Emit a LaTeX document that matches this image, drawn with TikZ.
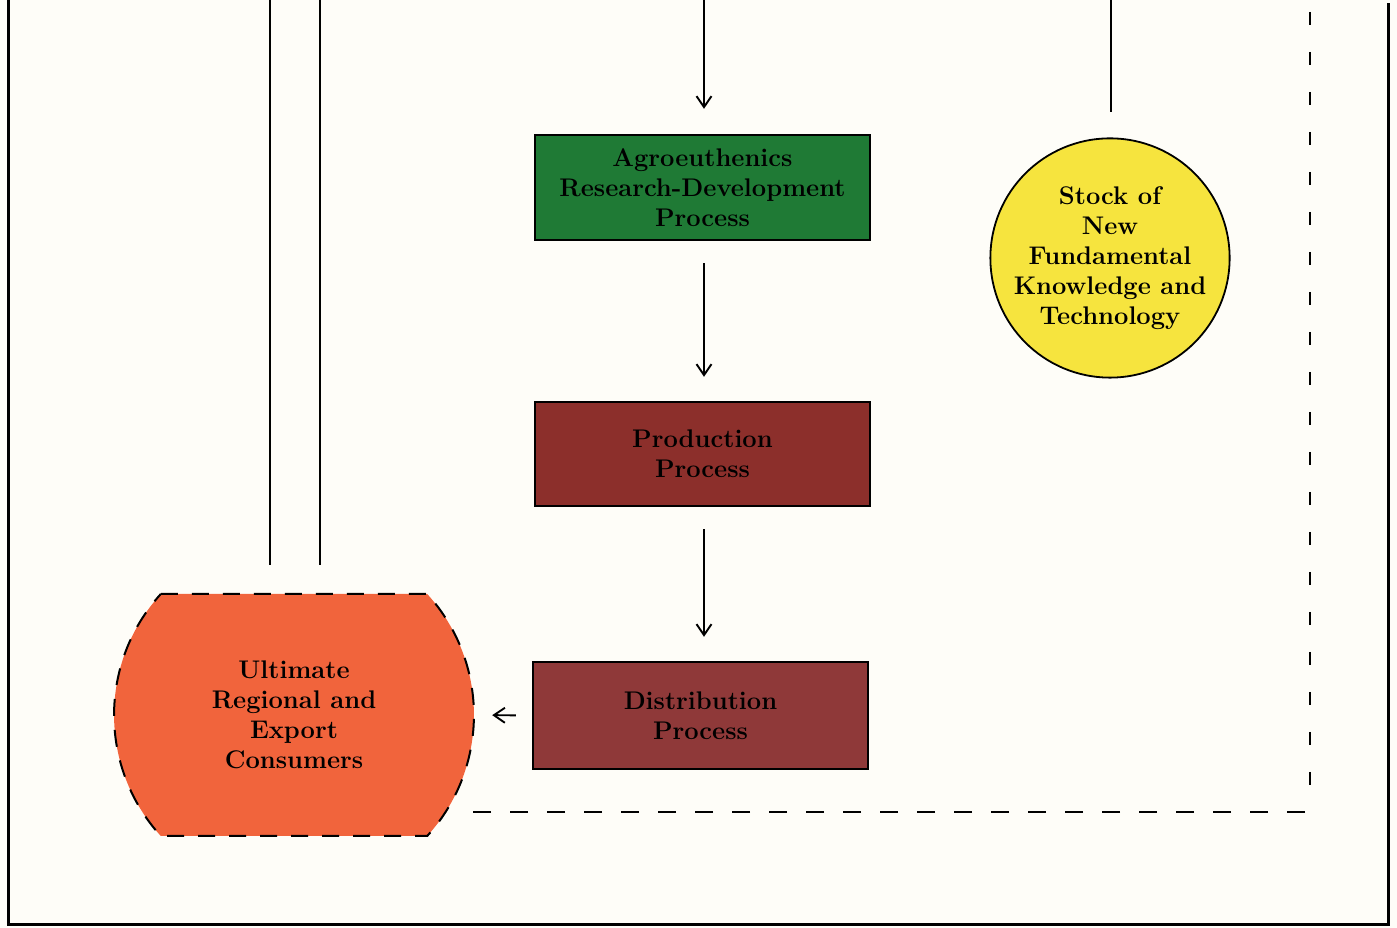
\documentclass[tikz,border=0pt]{standalone}
\usetikzlibrary{arrows.meta}
\definecolor{paper}{HTML}{FEFDF8}
\definecolor{rdgreen}{HTML}{1F7A35}
\definecolor{prodred}{HTML}{8C2F2B}
\definecolor{distred}{HTML}{8F3939}
\definecolor{consorange}{HTML}{F1643C}
\definecolor{stockyellow}{HTML}{F6E43E}
\tikzset{
  x=1pt, y=1pt,
  label text/.style={font=\fontsize{25.5}{30}\selectfont\bfseries, align=center, text=black},
  procbox/.style={label text, draw=black, line width=2.4pt, minimum width=335pt, inner sep=0pt},
  flow/.style={line width=1.9pt, -{Straight Barb[length=11pt, width=15pt, line width=1.9pt]}},
  rule/.style={line width=1.9pt},
  frame/.style={line width=3pt},
  feedback/.style={line width=2pt},
}
\begin{document}
\begin{tikzpicture}
\useasboundingbox (0,0) rectangle (1397,928);
\fill[paper] (0,0) rectangle (1397,928);

% page frame, open at the top
\draw[frame] (8,928) -- (8,3) -- (1388,3) -- (1388,925);

% incoming lines from above
\coordinate (ina) at (270,928);
\coordinate (ina2) at (270,363);
\coordinate (inb) at (320,928);
\coordinate (inb2) at (320,363);
\coordinate (inc) at (704,928);
\coordinate (ind) at (1111,928);
\draw[rule] (ina) -- (ina2);
\draw[rule] (inb) -- (inb2);

% process boxes
\node[procbox, fill=rdgreen, minimum height=105pt] (rd) at (702.5,740.5)
  {Agroeuthenics\\Research-Development\\Process};
\node[procbox, fill=prodred, minimum height=104pt] (prod) at (702.5,474)
  {Production\\Process};
\node[procbox, fill=distred, minimum height=107pt] (dist) at (700.5,212.5)
  {Distribution\\Process};

% stock of knowledge
\node[circle, draw=black, line width=1.8pt, fill=stockyellow, minimum size=236pt,
      label text, inner sep=0pt] (stock) at (1110,670)
  {Stock of\\New\\Fundamental\\Knowledge and\\Technology};
\draw[rule, shorten >=25pt] (ind) -- (ind |- stock.north);

% consumers: a disc cut flat at top and bottom
\filldraw[fill=consorange, draw=black, line width=2pt, dash pattern=on 17pt off 14pt]
  (160.8,334) -- (427.2,334) arc[start angle=42.24, end angle=-42.24, radius=180]
  -- (160.8,92) arc[start angle=222.24, end angle=137.76, radius=180] -- cycle;
\node[label text, minimum width=362pt, minimum height=242pt, inner sep=0pt] (cons) at (294,213)
  {Ultimate\\Regional and\\Export\\Consumers};

% flow arrows, all on the column x = 704
\draw[flow, shorten >=25pt] (inc) -- (inc |- rd.north);
\draw[flow, shorten <=22pt, shorten >=24pt] (inc |- rd.south) -- (inc |- prod.north);
\draw[flow, shorten <=22pt, shorten >=24pt] (inc |- prod.south) -- (inc |- dist.north);
\draw[flow, shorten <=16pt, shorten >=17pt] (dist.west) -- (cons.east);

% dashed feedback route
\coordinate (fbtop) at (1310,916);
\coordinate (fbcorner) at (1310,116);
\coordinate (fbend) at (465,116);
\draw[feedback, dash pattern=on 13pt off 27pt] (fbtop) -- (fbcorner);
\draw[feedback, dash pattern=on 18pt off 19pt] (1305,116) -- (fbend);
\end{tikzpicture}
\end{document}
